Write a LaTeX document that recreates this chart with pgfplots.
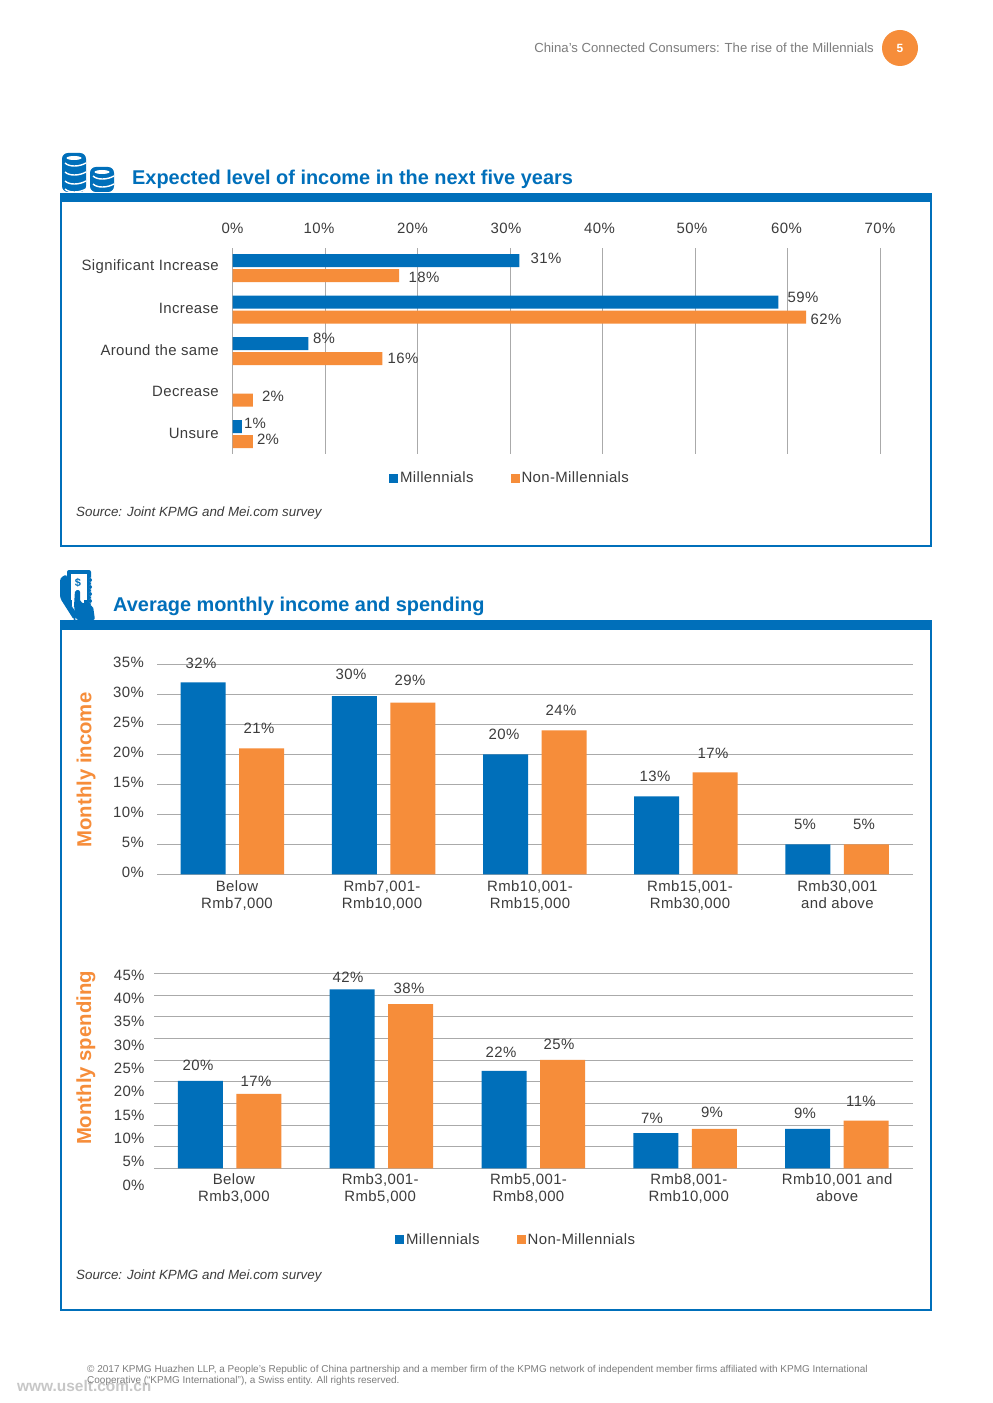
\documentclass[border=0pt]{standalone}
\usepackage{fontspec}
\setmainfont[LetterSpace=2.5]{Liberation Sans}
\newfontfamily\plainfont{Liberation Sans}
\usepackage{pgfplots}
\pgfplotsset{compat=1.18}
\definecolor{kblue}{RGB}{0,111,186}
\definecolor{korange}{RGB}{246,141,58}
\definecolor{kgrid}{RGB}{170,170,170}
\definecolor{ktext}{RGB}{60,60,60}
\definecolor{kfoot}{RGB}{125,125,125}

\newcommand{\lab}{\fontsize{15}{17}\selectfont\color{ktext}}
% tick label moved sideways by #1 bp
\newcommand{\xs}[2]{\makebox[0pt]{\kern\dimexpr#1bp+#1bp\relax #2}}
\newcommand{\xc}[3]{\xs{#1}{\begin{tabular}{@{}c@{}}#2\\#3\end{tabular}}}
% tick label moved up by #1 bp
\newcommand{\ys}[2]{\raisebox{#1bp}[0pt][0pt]{#2\%}}
\newcommand{\vl}[3]{\node[inner sep=0pt,font=\lab] at (#1,#2) {#3\%};}
% coin stack: left edge, top, bottom, heights of the white curves
\newcommand{\coins}[4]{%
  \fill[kblue,rounded corners=6] (#1,#2) rectangle (#1+24,#3);
  \fill[white] (#1+12,#2+5) ellipse (7.5 and 2);
  \foreach \y in {#4} {
    \draw[white,line width=1.4] (#1+3,\y-2) .. controls (#1+7,\y+2) and (#1+17,\y+2) .. (#1+24,\y-2);
  }}

\pgfplotsset{
  kbars/.style={
    scale only axis,
    axis line style={draw=none},
    major tick length=0pt,
    grid style={kgrid,line width=0.9bp},
    tick label style={font=\lab},
    legend cell align=left,
    legend style={draw=none,fill=none,font=\lab,inner sep=0pt,legend columns=2,
      /tikz/every even column/.append style={column sep=35bp}},
  },
  kkey/.style={legend image code/.code={\fill[##1] (0bp,-4.5bp) rectangle (9bp,4.5bp);}},
  kvert/.style={
    kbars, ybar, ymajorgrids, xmin=-0.5, xmax=4.5, xtick={0,1,2,3,4},
    bar width=45bp,
    yticklabel style={inner sep=0pt,xshift=-13bp,anchor=east},
    xticklabel style={inner sep=0pt,yshift=-5bp},
  },
}

\begin{document}
\begin{tikzpicture}[x=1bp,y=-1bp]
\path[use as bounding box,fill=white] (0,0) rectangle (992,1403);

% header
\node[anchor=east,inner sep=0pt,font=\plainfont\fontsize{13.2}{15}\selectfont,text=kfoot] at (874,48) {China’s Connected Consumers: The rise of the Millennials};
\fill[korange] (900,48) circle (18);
\node[inner sep=0pt,text=white,font=\plainfont\bfseries\fontsize{12}{14}\selectfont] at (900,48) {5};

% frames
\draw[kblue,line width=2bp] (61,197) rectangle (931,546);
\fill[kblue] (60,193) rectangle (932,202);
\draw[kblue,line width=2bp] (61,624) rectangle (931,1310);
\fill[kblue] (60,619.5) rectangle (932,629.5);

% titles
\node[anchor=west,inner sep=0pt,text=kblue,font=\plainfont\bfseries\fontsize{20}{24}\selectfont] at (132,179) {Expected level of income in the next five years};
\node[anchor=west,inner sep=0pt,text=kblue,font=\plainfont\bfseries\fontsize{20}{24}\selectfont] at (113,606) {Average monthly income and spending};

% coins icon
\coins{62}{153}{192}{165,174,183,191}
\coins{90}{167}{192}{178,186}

% phone icon
\fill[kblue,rounded corners=2] (67,570) rectangle (91,606);
\fill[white] (71,574) rectangle (87,600);
\node[inner sep=0pt,text=kblue,font=\plainfont\bfseries\fontsize{11}{12}\selectfont] at (78,583) {\$};
\foreach \y in {580,587,594,601} {\fill[white] (91,\y) circle (2.5); \fill[kblue] (90,\y) circle (2);}
\fill[kblue,rounded corners=3] (60,578) -- (67,574) -- (67,600) -- (76,612) -- (76,620) -- (74,620) -- (60,598) -- cycle;
\fill[white] (72,590) rectangle (84,606);
\fill[kblue,rounded corners=2] (75,590) -- (80,590) -- (80,602) -- (93,606) -- (95,620) -- (76,620) -- (74,606) -- cycle;

% expected income
\begin{axis}[
    kbars, xbar, xmajorgrids,
    at={(232.5bp,-454bp)}, anchor=south west,
    width=647.5bp, height=206bp,
    xmin=0, xmax=70, y dir=reverse, ymin=-0.482, ymax=4.482,
    xtick={0,10,...,70},
    xticklabel pos=top,
    xticklabels={
      \xs{0}{0\%},\xs{-6}{10\%},\xs{-5}{20\%},\xs{-4}{30\%},
      \xs{-3}{40\%},\xs{-3}{50\%},\xs{-1}{60\%},\xs{0}{70\%}},
    xticklabel style={inner sep=0pt,yshift=14bp},
    ytick={0,1,2,3,4},
    yticklabels={Significant Increase,Increase,Around the same,Decrease,Unsure},
    yticklabel style={inner sep=0pt,xshift=-13.5bp,yshift=1bp,anchor=east},
    bar width=13bp,
    legend style={at={(0.2415,-0.1165)},anchor=west},
  ]
  \addplot[draw=none,fill=kblue,bar shift=7.5bp,kkey] coordinates {
    (31,0) (59,1) (8.2,2) (1,4)
  };
  \addplot[draw=none,fill=korange,bar shift=-7.5bp,kkey] coordinates {
    (18,0) (62,1) (16.2,2) (2.2,3) (2.2,4)
  };
  \legend{Millennials,Non-Millennials}
\end{axis}
\vl{546}{258}{31}
\vl{424}{277}{18}
\vl{803}{297}{59}
\vl{826}{319}{62}
\vl{324}{338}{8}
\vl{403}{358}{16}
\vl{273}{396}{2}
\vl{255}{423}{1}
\vl{268}{439}{2}
\node[anchor=west,inner sep=0pt,text=ktext,font=\plainfont\itshape\fontsize{13.4}{15}\selectfont] at (76,513) {Source: Joint KPMG and Mei.com survey};

% monthly income
\begin{axis}[
    kvert,
    at={(157bp,-874.3bp)}, anchor=south west,
    width=756bp, height=210bp,
    ymin=0, ymax=35, ytick={0,5,...,35},
    yticklabels={0\%,5\%,10\%,15\%,20\%,25\%,30\%,35\%},
    yticklabel style={yshift=1.5bp},
    xticklabels={
      \xc{4.4}{Below}{Rmb7,000},
      \xc{-1.8}{Rmb7,001-}{Rmb10,000},
      \xc{-5}{Rmb10,001-}{Rmb15,000},
      \xc{3.8}{Rmb15,001-}{Rmb30,000},
      \xc{0}{Rmb30,001}{and above}},
  ]
  % heights as drawn in the reference
  \addplot[draw=none,fill=kblue,bar shift=-29.5bp] coordinates {
    (0,32) (1,29.7) (2,20) (3,13) (4,5)
  };
  \addplot[draw=none,fill=korange,bar shift=29bp] coordinates {
    (0,21) (1,28.6) (2,24) (3,17) (4,5)
  };
\end{axis}
\vl{201}{663}{32}
\vl{259}{728}{21}
\vl{351}{674}{30}
\vl{410}{680}{29}
\vl{504}{734}{20}
\vl{561}{710}{24}
\vl{655}{776}{13}
\vl{713}{753}{17}
\vl{805}{824}{5}
\vl{864}{824}{5}
\node[rotate=90,inner sep=0pt,text=korange,font=\plainfont\bfseries\fontsize{20.4}{22}\selectfont] at (86,770) {Monthly income};

% monthly spending
\begin{axis}[
    kvert,
    at={(154bp,-1168.3bp)}, anchor=south west,
    width=759bp, height=195bp,
    ymin=0, ymax=45, ytick={0,5,...,45},
    yticklabels={\ys{-11.7}{0},\ys{-10}{5},\ys{-8.4}{10},\ys{-6.7}{15},\ys{-5}{20},
      \ys{-3.4}{25},\ys{-1.7}{30},\ys{0}{35},\ys{1.6}{40},\ys{3.3}{45}},
    yticklabel style={xshift=3.7bp,yshift=-10bp},
    xticklabels={
      \xc{4}{Below}{Rmb3,000},
      \xc{-1.5}{Rmb3,001-}{Rmb5,000},
      \xc{-5}{Rmb5,001-}{Rmb8,000},
      \xc{3.5}{Rmb8,001-}{Rmb10,000},
      \xc{0}{Rmb10,001 and}{above}},
    xticklabel style={yshift=1bp},
    legend style={at={(0.3175,-0.365)},anchor=west},
  ]
  % heights as drawn in the reference
  \addplot[draw=none,fill=kblue,bar shift=-29.5bp,kkey] coordinates {
    (0,20.2) (1,41.3) (2,22.5) (3,8.1) (4,9.1)
  };
  \addplot[draw=none,fill=korange,bar shift=29bp,kkey] coordinates {
    (0,17.2) (1,37.9) (2,25) (3,9.1) (4,11)
  };
  \legend{Millennials,Non-Millennials}
\end{axis}
\vl{198}{1065}{20}
\vl{256}{1081}{17}
\vl{348}{977}{42}
\vl{409}{988}{38}
\vl{501}{1052}{22}
\vl{559}{1044}{25}
\vl{652}{1118}{7}
\vl{712}{1112}{9}
\vl{805}{1113}{9}
\vl{861}{1101}{11}
\node[rotate=90,inner sep=0pt,text=korange,font=\plainfont\bfseries\fontsize{20.4}{22}\selectfont] at (86,1058) {Monthly spending};
\node[anchor=west,inner sep=0pt,text=ktext,font=\plainfont\itshape\fontsize{13.4}{15}\selectfont] at (76,1276) {Source: Joint KPMG and Mei.com survey};

% footer
\node[anchor=west,inner sep=0pt,text=black!22,font=\plainfont\bfseries\fontsize{15.5}{17}\selectfont] at (17,1386) {www.uselt.com.cn};
\node[anchor=west,inner sep=0pt,text=kfoot,font=\plainfont\fontsize{10.03}{11}\selectfont] at (87,1370) {© 2017 KPMG Huazhen LLP, a People’s Republic of China partnership and a member firm of the KPMG network of independent member firms affiliated with KPMG International};
\node[anchor=west,inner sep=0pt,text=kfoot,font=\plainfont\fontsize{10.03}{11}\selectfont] at (87,1381) {Cooperative (“KPMG International”), a Swiss entity. All rights reserved.};
\end{tikzpicture}
\end{document}
